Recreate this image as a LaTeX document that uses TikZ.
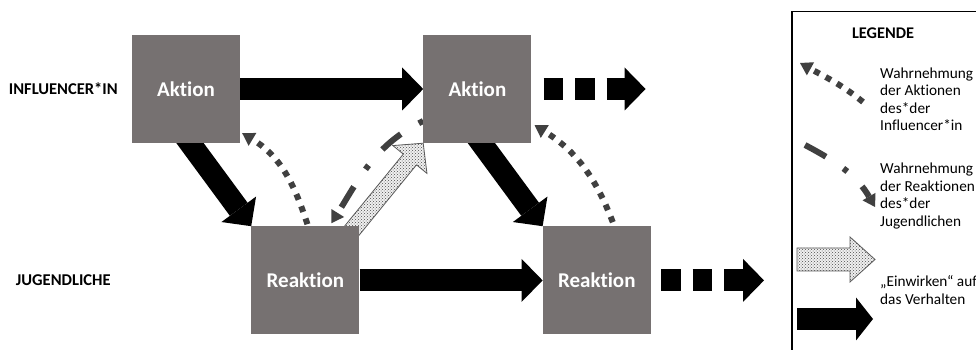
\documentclass[tikz,border=0pt]{standalone}
\usepackage{fontspec}
\setmainfont{Carlito}[Ligatures={NoCommon}]
\usepackage{tikz}
\usetikzlibrary{
  arrows.meta,
  positioning,
  calc,
  backgrounds,
  patterns
}
\definecolor{BoxGray}{RGB}{118,113,113}
\definecolor{DotGray}{RGB}{64,64,64}
\definecolor{EdgeGray}{RGB}{90,90,90}
\tikzset{
  stage/.style={fill=BoxGray,text=white,minimum size=108pt,inner sep=0pt,font=\fontsize{21}{25}\selectfont\bfseries},
  rowlabel/.style={inner sep=0pt,font=\fontsize{16.5}{20}\selectfont\bfseries},
  legendtitle/.style={inner sep=0pt,font=\fontsize{16.3}{20}\selectfont\bfseries},
  legendtext/.style={inner sep=0pt,align=left,anchor=west,font=\fontsize{15.3}{17.5}\selectfont},
  legendframe/.style={draw=black,line width=1.2pt},
  flow/.style={line width=22pt,draw=black,-{Triangle[length=21pt,width=43pt,line width=0pt]}},
  flowdash/.style={flow,dash pattern=on 19.5pt off 12pt},
  seenaction/.style={line width=6pt,draw=DotGray,dash pattern=on 6pt off 7pt,-{Triangle[length=12pt,width=15pt,line width=0pt]}},
  seenreaction/.style={line width=6pt,draw=DotGray,dash pattern=on 24pt off 21pt on 5pt off 21pt,-{Triangle[length=12pt,width=15pt,line width=0pt]}},
  influence/.style={draw=EdgeGray,line width=0.8pt,preaction={fill=gray!12},pattern=crosshatch dots,pattern color=black!70}
}
% block arrow: tail, tip, half shaft, half head, head length
\newcommand{\influencearrow}[5]{%
  \draw[influence] let \p1=($(#2)-(#1)$), \n1={atan2(\y1,\x1)}, \n2={veclen(\x1,\y1)-#5} in
    ($(#1)+(\n1+90:#3)$) -- ++(\n1:\n2) -- ++(\n1+90:#4-#3) -- (#2)
    -- ($(#1)+(\n1:\n2)+(\n1-90:#4)$) -- ++(\n1+90:#4-#3) -- ($(#1)+(\n1-90:#3)$) -- cycle;}

\begin{document}
\begin{tikzpicture}[x=1pt,y=1pt,node distance=83pt and 11pt]
\useasboundingbox (0,0) rectangle (976,350);
\node[stage] (akt1) at (186,261) {Aktion};
\node[stage, below right=83pt and 11pt of akt1] (reak1) {Reaktion};
\node[stage, right=183pt of akt1] (akt2) {Aktion};
\node[stage, right=183pt of reak1] (reak2) {Reaktion};
\node[rowlabel, left=14pt of akt1] (infl) {INFLUENCER*IN};
\node[rowlabel] (jugend) at (infl.center |- reak1.center) {JUGENDLICHE};

\coordinate (akt2out) at ([xshift=114pt]akt2.east);
\coordinate (reak2out) at ([xshift=113pt]reak2.east);
\coordinate (hatchtail) at ([xshift=-9pt,yshift=-6pt]reak1.north east);

\begin{scope}[on background layer]
\draw[flow] (akt1.east) -- (akt2.west);
\draw[flow] (reak1.east) -- (reak2.west);
\draw[flow] ([xshift=-13pt,yshift=-31pt]akt1.center) -- (reak1.north west);
\draw[flow] ([xshift=-13pt,yshift=-31pt]akt2.center) -- (reak2.north west);
\draw[flowdash] ([xshift=12pt]akt2.east) -- (akt2out);
\draw[flowdash] ([xshift=10pt]reak2.east) -- (reak2out);
\influencearrow{hatchtail}{akt2.south west}{8.5}{22}{21}
\draw[seenaction] ([xshift=2pt,yshift=2pt]reak1.north) to[out=108,in=-31] ([xshift=2pt,yshift=10pt]akt1.south east);
\draw[seenaction] ([xshift=16pt,yshift=4pt]reak2.north) to[out=111,in=-32] ([xshift=3pt,yshift=18pt]akt2.south east);
\draw[seenreaction, dash phase=45pt] ([yshift=-32pt]akt2.west) to[out=206,in=58] ([xshift=26pt,yshift=3pt]reak1.north);
\end{scope}

\draw[legendframe] (792,338.5) rectangle (1000,-20);
\node[legendtitle] (legtitle) at (883,317) {LEGENDE};
\node[legendtext] (legtxt1) at (880,251) {Wahrnehmung\\der Aktionen\\des*der\\Influencer*in};
\node[legendtext] (legtxt2) at (880,154) {Wahrnehmung\\der Reaktionen\\des*der\\Jugendlichen};
\node[legendtext] (legtxt3) at (880,60) {„Einwirken“ auf\\das Verhalten};

\coordinate (keyseenA0) at (863,248);
\coordinate (keyseenA1) at (800,287);
\coordinate (keyseenR0) at (805,205);
\coordinate (keyseenR1) at (875,143);
\coordinate (keyinf0) at (797,90.5);
\coordinate (keyinf1) at (875,90.5);
\coordinate (keyflow0) at (797,31);
\coordinate (keyflow1) at (873,31);

\draw[seenaction] (keyseenA0) to[out=141,in=-29] (keyseenA1);
\draw[seenreaction] (keyseenR0) to[out=-28,in=120] (keyseenR1);
\influencearrow{keyinf0}{keyinf1}{11.5}{22.5}{25}
\draw[flow,-{Triangle[length=17pt,width=43pt,line width=0pt]}] (keyflow0) -- (keyflow1);
\end{tikzpicture}
\end{document}
